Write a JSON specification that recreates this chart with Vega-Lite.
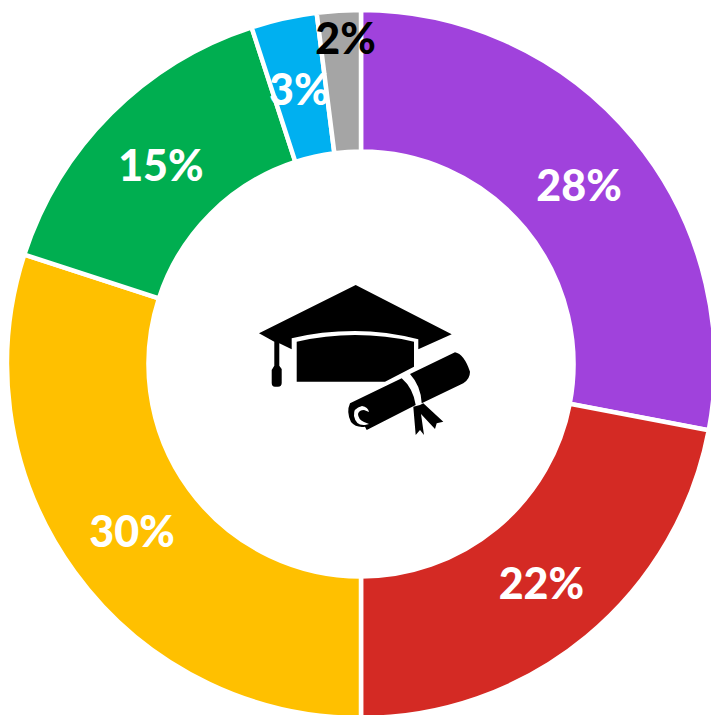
{
  "$schema": "https://vega.github.io/schema/vega-lite/v6.json",
  "width": 722,
  "height": 728,
  "padding": 0,
  "autosize": {"type": "none"},
  "background": "white",
  "view": {"stroke": null},
  "data": {"values": [
    {"category": "A", "rank": 1, "share": 28, "label": "28%"},
    {"category": "B", "rank": 2, "share": 22, "label": "22%"},
    {"category": "C", "rank": 3, "share": 30, "label": "30%"},
    {"category": "D", "rank": 4, "share": 15, "label": "15%"},
    {"category": "E", "rank": 5, "share": 3, "label": "3%"},
    {"category": "F", "rank": 6, "share": 2, "label": "2%"}
  ]},
  "encoding": {
    "theta": {"field": "share", "type": "quantitative", "stack": true},
    "order": {"field": "rank", "type": "ordinal"}
  },
  "layer": [
    {
      "mark": {"type": "arc", "outerRadius": 354, "innerRadius": 212.5, "stroke": "white", "strokeWidth": 4.5},
      "encoding": {
        "color": {
          "field": "category", "type": "nominal", "legend": null,
          "scale": {"domain": ["A","B","C","D","E","F"], "range": ["#A042DC","#D42A24","#FFC000","#00AE50","#00B0F0","#A5A5A5"]}
        }
      }
    },
    {
      "mark": {"type": "text", "radius": 283, "dy": 4, "font": "Lato", "fontWeight": 900, "fontSize": 43, "fill": "white", "baseline": "middle", "align": "center"},
      "encoding": {
        "text": {"condition": {"test": "datum.rank === 6", "value": ""}, "field": "label"}
      }
    },
    {
      "mark": {"type": "text", "radius": 326, "dx": 5, "dy": 2, "font": "Lato", "fontWeight": 900, "fontSize": 43, "fill": "black", "baseline": "middle", "align": "center"},
      "encoding": {
        "text": {"condition": {"test": "datum.rank !== 6", "value": ""}, "field": "label"}
      }
    },
    {
      "data": {"values": [{"icon": "graduation cap and diploma"}]},
      "mark": {
        "type": "point", "filled": true, "fill": "black", "color": "black", "opacity": 1, "size": 4, "strokeWidth": 0,
        "shape": "M-5.3 -79L90.7 -29.7L57.3 -14.7L57.3 -24.7Q25 -33 -6 -33Q-40 -33 -69.3 -25.7L-69.3 -14.7L-81.7 -20.7L-81.7 1.7L-79.3 5L-79.3 19Q-79.3 22.7 -83 22.7L-86 22.7Q-89.3 22.7 -89.3 19L-89.3 6L-86.7 1.7L-86.7 -22.3L-102 -30.7ZM-64.3 -22.3Q-35 -29 -6 -29Q25 -29 53 -22.3L53 2.7L24 17.7L-64.3 17.7ZM49 10L94 -11.7Q103 -10 109 7.7Q109 15 102.3 19.3L60.7 39.3Q60 22 49 10ZM40.7 14.3Q52 24 54.7 41L5.7 66L4 62.7Q-5 64 -10 58Q-15 48 -11 39.3ZM1 42Q-8 44 -7 52Q-5 62 4 61L8 60L3 58Q-3 55 -3 50Q-2 46 3 46L8 48Q7 43 1 42ZM52.3 42.7L59 41L62.3 39.3L82.3 57.7L75.7 59.3L74 65L60 50L63 71L59 66L54.7 71Z"
      },
      "encoding": {"theta": null, "order": null}
    }
  ]
}
